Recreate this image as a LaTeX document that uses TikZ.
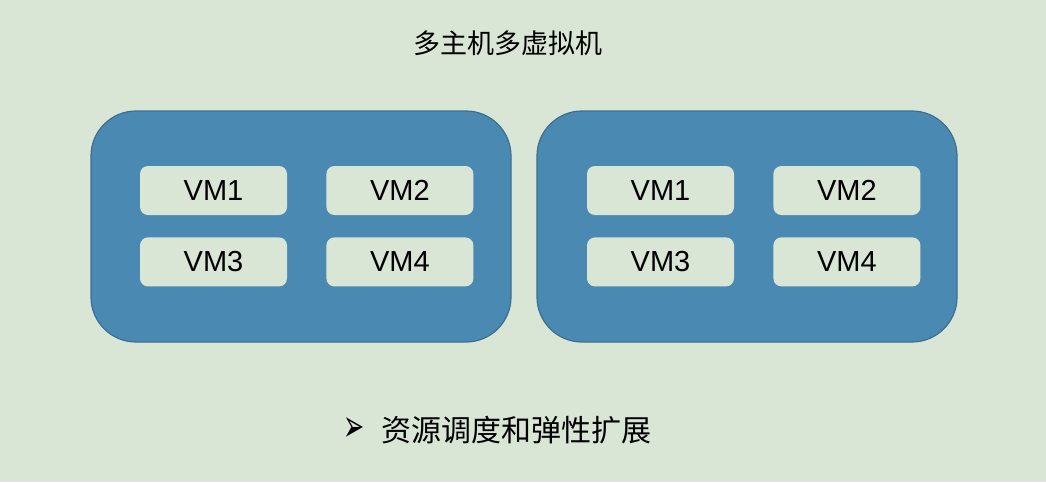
\documentclass[tikz,border=0pt]{standalone}
\usepackage{fontspec}
\setmainfont{Liberation Sans}
\newfontfamily\cjk{Noto Sans CJK SC}
\newfontfamily\symb{DejaVu Sans}
\usetikzlibrary{positioning}
\definecolor{bggreen}{HTML}{D9E6D5}
\definecolor{hostblue}{HTML}{4A8AB2}
\definecolor{hostedge}{HTML}{3D6E92}
\tikzset{
  host/.style={draw=hostedge, line width=1.2pt, fill=hostblue, rounded corners=45pt,
    minimum width=420pt, minimum height=231pt, inner sep=0pt},
  vm/.style={fill=bggreen, rounded corners=8pt, minimum width=147pt, minimum height=49pt,
    inner sep=0pt, font=\fontsize{29}{32}\selectfont},
  caption/.style={inner sep=0pt, font=\cjk\fontsize{27}{30}\selectfont}
}

\begin{document}
\begin{tikzpicture}[x=1pt, y=-1pt, node distance=22pt and 39pt]
  \fill[bggreen] (0,0) rectangle (1046,482);
  \useasboundingbox (0,0) rectangle (1046,482);

  \node[caption] (title) at (508,43) {多主机多虚拟机};

  % first host
  \node[host] (h1) at (301,226.5) {};
  \node[vm] (h1vm1) at (213.5,190.5) {VM1};
  \node[vm, right=of h1vm1] (h1vm2) {VM2};
  \node[vm, below=of h1vm1] (h1vm3) {VM3};
  \node[vm, right=of h1vm3] (h1vm4) {VM4};

  % second host
  \node[host] (h2) at (747,226.5) {};
  \node[vm] (h2vm1) at (660.5,190.5) {VM1};
  \node[vm, right=of h2vm1] (h2vm2) {VM2};
  \node[vm, below=of h2vm1] (h2vm3) {VM3};
  \node[vm, right=of h2vm3] (h2vm4) {VM4};

  \node[caption, font=\cjk\fontsize{30}{33}\selectfont] (note) at (516,430) {资源调度和弹性扩展};
  \node[inner sep=0pt, font=\symb\fontsize{28}{30}\selectfont, left=16pt of note] (bullet) {\scalebox{0.9}[1.6]{➢}};
\end{tikzpicture}
\end{document}
